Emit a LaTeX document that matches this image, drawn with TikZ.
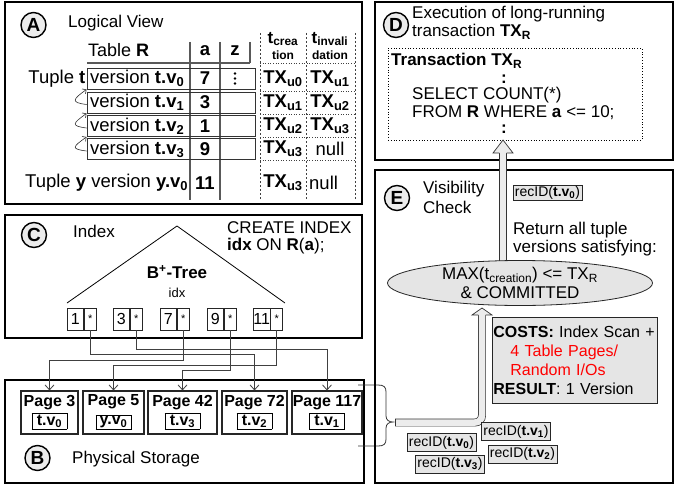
\documentclass[tikz,border=0pt]{standalone}
\usepackage{fontspec}
\setmainfont{Liberation Sans}
\usetikzlibrary{shapes.geometric, arrows.meta, positioning, calc}

\setlength{\fboxsep}{1pt}
\setlength{\fboxrule}{0.9pt}
\newcommand{\ver}[1]{\textbf{t.v\textsubscript{#1}}}
\newcommand{\tx}[1]{\textbf{TX\textsubscript{#1}}}
\newcommand{\pv}[1]{\fbox{\makebox[32pt]{#1}}}
\newcommand{\uphead}[2]{%
  \fill[gray!15] ($(#1)+(-10,#2)$) -- (#1) -- ($(#1)+(10,#2)$) -- cycle;
  \draw[black!80, line width=0.7pt] ($(#1)+(3.6,#2)$) -- ($(#1)+(10,#2)$) -- (#1)
    -- ($(#1)+(-10,#2)$) -- ($(#1)+(-3.6,#2)$);}

\begin{document}
\begin{tikzpicture}[
    x=1pt, y=-1pt,
    font=\fontsize{17}{19}\selectfont,
    panel/.style={draw=black, line width=1.4pt},
    badge/.style={circle, draw=black, line width=1.4pt, fill=gray!15, minimum size=25pt,
                  inner sep=0pt, font=\bfseries\fontsize{19}{19}\selectfont},
    heading/.style={anchor=west, inner sep=0pt, align=left},
    cell/.style={inner sep=0pt, font=\fontsize{18.5}{19}\selectfont},
    rowbox/.style={rectangle, draw=black!80, line width=0.9pt, minimum width=168pt,
                   minimum height=21pt, inner sep=0pt},
    colline/.style={black!65, line width=1.3pt},
    tcol/.style={black!75, line width=0.6pt, dash pattern=on 2pt off 2pt},
    trow/.style={black!75, line width=0.6pt, dotted},
    chain/.style={black!80, line width=0.6pt, -{Straight Barb[length=3pt,width=6pt]}},
    keybox/.style={rectangle, draw=black!85, line width=0.8pt, minimum width=16pt,
                   minimum height=22pt, inner sep=0pt, anchor=west, font=\fontsize{16}{16}\selectfont},
    starbox/.style={keybox, minimum width=12pt, font=\fontsize{11}{11}\selectfont},
    link/.style={black!75, line width=0.8pt, -{Straight Barb[length=5pt,width=9pt]}},
    page/.style={rectangle, draw=black!85, line width=1.1pt, minimum height=43pt, inner sep=0pt,
                 align=center, font=\bfseries\fontsize{16}{18}\selectfont},
    hollow/.style={draw=black!80, line width=0.7pt, double=gray!15, double distance=6.5pt},
    recbox/.style={rectangle, draw=black!85, line width=0.8pt, fill=gray!20, inner xsep=2pt,
                   inner ysep=0pt, minimum height=18pt, font=\fontsize{14}{14}\selectfont}
]
\useasboundingbox (0,0) rectangle (692,484);

% A: logical view
\draw[panel] (5,2) rectangle (362,204);
\node[badge] (bA) at (33.5,25) {A};
\node[heading] (lview) at (68,23) {Logical View};
\node[heading, font=\fontsize{18}{19}\selectfont] (tabR) at (88,50) {Table \textbf{R}};
\node[cell] (colA) at (205,51) {\textbf{a}};
\node[cell] (colZ) at (235,51) {\textbf{z}};
\draw[colline] (87,63) -- (250,63);
\draw[colline] (190,42) -- (190,200);
\draw[colline] (220,42) -- (220,200);
\draw[colline] (250,42) -- (250,63);
\node[cell, font=\fontsize{17}{17}\selectfont] (tcrea) at (283,39) {\textbf{t}\textsubscript{\textbf{crea}}};
\node[cell, font=\bfseries\fontsize{12}{12}\selectfont] at (283,55) {tion};
\node[cell, font=\fontsize{17}{17}\selectfont] (tinv) at (330,39) {\textbf{t}\textsubscript{\textbf{invali}}};
\node[cell, font=\bfseries\fontsize{12}{12}\selectfont] at (330,55) {dation};
\foreach \x in {260,306,355} \draw[tcol] (\x,33) -- (\x,200);
\foreach \y in {63,91,114,137,160} \draw[trow] (260,\y) -- (355,\y);
\foreach \i/\y/\a/\c/\d in {0/78.5/7/u0/{\tx{u1}}, 1/102.5/3/u1/{\tx{u2}},
                            2/126/1/u2/{\tx{u3}}, 3/149/9/u3/null}{
  \node[rowbox] (v\i) at (171,\y) {};
  \node[heading, font=\fontsize{18.5}{19}\selectfont] at (90,\y) {version \ver{\i}};
  \node[cell] at (205,\y) {\textbf{\a}};
  \node[cell] at (283,\y) {\tx{\c}};
  \node[cell] at (330,\y) {\d};
}
\foreach \yy in {73.5,78.5,83.5} \fill (235,\yy) circle (1.3pt);
\node[anchor=east, inner sep=1pt, font=\fontsize{18.5}{19}\selectfont] (tupT) at (v0.west) {Tuple \textbf{t}};
\foreach \i/\j in {1/0,2/1,3/2}
  \draw[chain] ([yshift=-2pt]v\i.west) .. controls +(-16,-2) and +(-14,10) .. (v\j.south west);
\node[heading, font=\fontsize{18.5}{19}\selectfont] (tupY) at (25,183)
  {Tuple \textbf{y} version \textbf{y.v\textsubscript{0}}};
\node[cell] at (205,183) {\textbf{11}};
\node[cell] at (283,183) {\tx{u3}};
\node[heading, font=\fontsize{18.5}{19}\selectfont] at (309,183) {null};

% C: index
\draw[panel] (5,215) rectangle (362,338);
\node[badge] (bC) at (34,235) {C};
\node[heading] (idxlab) at (73,231) {Index};
\node[anchor=north west, inner sep=0pt, align=left, font=\fontsize{17}{17.5}\selectfont] (create)
  at (227,221) {CREATE INDEX\\\textbf{idx} ON \textbf{R}(\textbf{a});};
\draw[line width=0.8pt] (67,303) -- (177,226) -- (285,303);
\node[inner sep=0pt] (btree) at (177,272) {\textbf{B\textsuperscript{+}-Tree}};
\node[inner sep=0pt, font=\fontsize{13}{13}\selectfont] at (177,293) {idx};
\foreach \k/\x in {1/67,3/113,7/160,9/207,11/253}{
  \node[keybox] (k\k) at (\x,319) {\k};
  \node[starbox] (s\k) at (k\k.east) {\raisebox{-2pt}{*}};
}

% B: physical storage
\draw[panel] (5,380) rectangle (364,483);
\node[badge] (bB) at (37.5,458) {B};
\node[heading] (phys) at (72,459) {Physical Storage};
\node[page, minimum width=57pt] (p3) at (49.5,412.5) {Page 3\\[1pt]\pv{t.v\textsubscript{0}}};
\node[page, minimum width=61pt] (p5) at (113.5,412.5) {Page 5\\[1pt]\pv{y.v\textsubscript{0}}};
\node[page, minimum width=69pt] (p42) at (182.5,412.5) {Page 42\\[1pt]\pv{t.v\textsubscript{3}}};
\node[page, minimum width=65pt] (p72) at (254.5,412.5) {Page 72\\[1pt]\pv{t.v\textsubscript{2}}};
\node[page, minimum width=70pt] (p117) at (327,412.5) {Page 117\\[1pt]\pv{t.v\textsubscript{1}}};

% index entries -> pages
\draw[link] (s1.south) -- ++(0,24) -| (p72.north);
\draw[link] (s3.south) -- ++(0,19) -| (p117.north);
\draw[link] (s7.south) -- ++(0,30) -| (p3.north);
\draw[link] (s9.south) -- ++(0,40) -| (p42.north);
\draw[link] (s11.south) -- ++(0,35) -| (p5.north);

% brace
\draw[black!80, line width=0.8pt] (358,385) -- (378,385) .. controls (384,385) and (386,387) .. (386,392)
  -- (386,416) .. controls (386,420) and (389,422) .. (393,422)
  .. controls (389,422) and (386,424) .. (386,428) -- (386,439)
  .. controls (386,444) and (384,446) .. (378,446) -- (358,446);

% D: transaction
\draw[panel] (375,2) rectangle (673,160);
\node[badge] (bD) at (396,25) {D};
\node[anchor=north west, inner sep=0pt, align=left, font=\fontsize{17}{18}\selectfont] (exec)
  at (412,6) {Execution of long-running\\transaction \textbf{TX\textsubscript{R}}};
\node[draw, dotted, line width=0.8pt, minimum width=254pt, minimum height=92pt, inner sep=0pt] (txbox)
  at (515,94) {};
\node[heading] (txname) at (391,61) {\textbf{Transaction TX\textsubscript{R}}};
\node[inner sep=0pt] at (504,79) {\textbf{:}};
\node[inner sep=0pt] at (504,129) {\textbf{:}};
\node[anchor=north west, inner sep=0pt, align=left, font=\fontsize{17}{18}\selectfont] (sql)
  at (412,87) {SELECT COUNT(*)\\FROM \textbf{R} WHERE \textbf{a} <= 10;};

% E: visibility check
\draw[panel] (375,170) rectangle (673,483);
\node[badge] (bE) at (397,198) {E};
\node[heading, font=\fontsize{17}{20}\selectfont] (vislab) at (423,197) {Visibility\\Check};
\node[recbox, minimum height=15pt] (rtop) at (547.5,192.5) {recID(\ver{0})};
\node[anchor=north west, inner sep=0pt, align=left, font=\fontsize{17}{18}\selectfont] (ret)
  at (513,222) {Return all tuple\\versions satisfying:};

% hollow arrows
\coordinate (dTip) at (503,140);
\draw[hollow] (503,262) -- ($(dTip)+(0,12)$);
\uphead{dTip}{13}
\coordinate (braceTip) at (395,422.5);
\coordinate (visIn) at (482,308);
\draw[hollow, rounded corners=7pt] (braceTip) -| ($(visIn)+(0,6)$);
\draw[black!80, line width=0.7pt] ($(braceTip)+(0,-3.6)$) -- ($(braceTip)+(0,3.6)$);
\uphead{visIn}{7}

\node[ellipse, draw=black!85, line width=0.8pt, fill=gray!20, minimum width=265pt, minimum height=45pt,
      inner sep=0pt, align=center, font=\fontsize{17}{18.5}\selectfont] (vis)
  at (520,283) {MAX(t\textsubscript{creation}) <= TX\textsubscript{R}\\\& COMMITTED};
\node[draw=black!85, line width=0.8pt, fill=gray!20, anchor=north west, minimum height=86pt,
      text width=163pt, inner xsep=1pt, inner ysep=0pt, align=left, font=\fontsize{16}{19}\selectfont] (costs)
  at (492,317) {\textbf{COSTS:} Index Scan +\\\hspace*{17pt}\textcolor{red}{4 Table Pages/}\\
  \hspace*{17pt}\textcolor{red}{Random I/Os}\\\textbf{RESULT}: 1 Version};

\node[recbox] (r1) at (516,431.5) {recID(\ver{1})};
\node[recbox] (r0) at (441.5,442.5) {recID(\ver{0})};
\node[recbox] (r2) at (522.5,454) {recID(\ver{2})};
\node[recbox] (r3) at (450,464) {recID(\ver{3})};
\end{tikzpicture}
\end{document}
